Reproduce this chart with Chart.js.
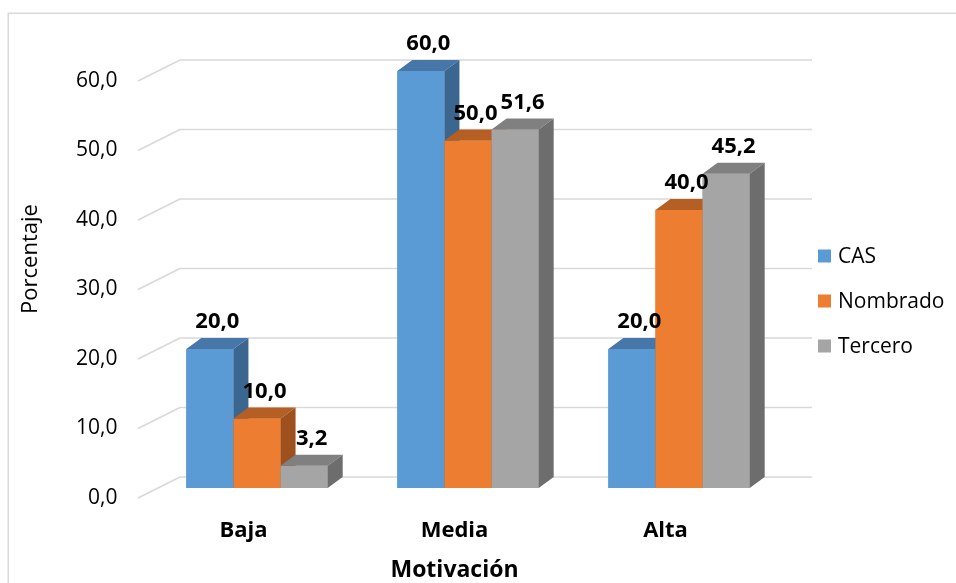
<!DOCTYPE html>
<html>
<head>
<meta charset="utf-8">
<script src="https://cdn.jsdelivr.net/npm/chart.js@4.4.1/dist/chart.umd.min.js"></script>
<style>
  html, body { margin: 0; padding: 0; background: #fff; overflow: hidden; }
  canvas { display: block; }
</style>
</head>
<body>
<canvas id="chart" width="956" height="583"></canvas>
<script>
// ---- data ----
const categories = ['Baja', 'Media', 'Alta'];
const seriesNames = ['CAS', 'Nombrado', 'Tercero'];
const casValues = [20.0, 60.0, 20.0];
const nombradoValues = [10.0, 50.0, 40.0];
const terceroValues = [3.2, 51.6, 45.2];
const yTickValues = [0, 10, 20, 30, 40, 50, 60];
const xAxisTitle = 'Motivación';
const yAxisTitle = 'Porcentaje';

// ---- look ----
const FONT = "'Open Sans', sans-serif";
const faceColors = [
  { front: '#5B9BD5', top: '#4677A8', side: '#3B6690' },
  { front: '#ED7D31', top: '#B65F25', side: '#9E511E' },
  { front: '#A5A5A5', top: '#808080', side: '#6D6D6D' }
];
const BAR_DX = 15, BAR_DY = 11;       // depth of each bar
const FLOOR_DX = 13.5, FLOOR_DY = 10; // bar front plane -> front edge of the floor
const WALL_DX = BAR_DX + FLOOR_DX, WALL_DY = BAR_DY + FLOOR_DY;
const GRID_COLOR = '#D9D9D9';

const fmt = v => v.toFixed(1).replace('.', ',');
const seriesValues = [casValues, nombradoValues, terceroValues];

function poly(ctx, pts, color) {
  ctx.beginPath();
  ctx.moveTo(pts[0][0], pts[0][1]);
  for (let i = 1; i < pts.length; i++) ctx.lineTo(pts[i][0], pts[i][1]);
  ctx.closePath();
  ctx.fillStyle = color;
  ctx.fill();
}

// draws the frame, the receding grid, the 3D bar faces, value labels, legend and titles
const depthPlugin = {
  id: 'depth',
  beforeDraw(chart) {
    const { ctx, width, height } = chart;
    ctx.save();
    ctx.fillStyle = '#fff';
    ctx.fillRect(0, 0, width, height);
    ctx.strokeStyle = GRID_COLOR;
    ctx.lineWidth = 1.5;
    ctx.strokeRect(8.25, 13.25, width + 20, height + 20);
    ctx.restore();
  },
  beforeDatasetsDraw(chart) {
    const { ctx, chartArea: a, scales: { y } } = chart;
    ctx.save();
    ctx.strokeStyle = GRID_COLOR;
    ctx.lineWidth = 1.6;
    ctx.lineJoin = 'round';
    y.ticks.forEach(t => {
      const py = y.getPixelForValue(t.value);
      ctx.beginPath();
      ctx.moveTo(a.left - FLOOR_DX, py + FLOOR_DY);
      ctx.lineTo(a.left + BAR_DX + FLOOR_DX, py - BAR_DY);
      ctx.lineTo(a.right + BAR_DX + FLOOR_DX - 1, py - BAR_DY);
      ctx.stroke();
    });
    ctx.restore();
  },
  afterDatasetsDraw(chart) {
    const ctx = chart.ctx;
    ctx.save();
    // paint clusters left to right so each bar hides the side of the one before it
    chart.data.datasets.forEach((ds, i) => {
      const meta = chart.getDatasetMeta(i);
      const c = faceColors[i];
      meta.data.forEach(bar => {
        const { x, y, base, width } = bar.getProps(['x', 'y', 'base', 'width'], true);
        const l = x - width / 2, r = x + width / 2;
        bar.draw(ctx);
        poly(ctx, [[l, y], [r, y], [r + BAR_DX, y - BAR_DY], [l + BAR_DX, y - BAR_DY]], c.top);
        poly(ctx, [[r, y], [r + BAR_DX, y - BAR_DY], [r + BAR_DX, base - BAR_DY], [r, base]], c.side);
      });
    });
    // value labels
    ctx.font = `bold 22px ${FONT}`;
    ctx.fillStyle = '#000';
    ctx.textAlign = 'center';
    ctx.textBaseline = 'middle';
    chart.data.datasets.forEach((ds, i) => {
      const meta = chart.getDatasetMeta(i);
      meta.data.forEach((bar, j) => {
        const { x, y } = bar.getProps(['x', 'y'], true);
        ctx.fillText(fmt(ds.data[j]), x + BAR_DX / 2, y - BAR_DY - 16);
      });
    });
    ctx.restore();
  },
  afterDraw(chart) {
    const { ctx, chartArea: a } = chart;
    ctx.save();
    ctx.fillStyle = '#000';
    // y axis title
    ctx.font = `22px ${FONT}`;
    ctx.textAlign = 'center';
    ctx.textBaseline = 'middle';
    ctx.save();
    ctx.translate(a.left - 120.5, (a.top + a.bottom) / 2 - 20.5);
    ctx.rotate(-Math.PI / 2);
    ctx.fillText(yAxisTitle, 0, 0);
    ctx.restore();
    // x axis title
    ctx.font = `bold 23px ${FONT}`;
    ctx.fillText(xAxisTitle, (a.left + a.right) / 2 - FLOOR_DX, 570);
    // legend
    ctx.font = `21px ${FONT}`;
    ctx.textAlign = 'left';
    const mid = (a.top + a.bottom) / 2 + 21.5;
    chart.data.datasets.forEach((ds, i) => {
      const cy = mid + (i - 1) * 45;
      ctx.fillStyle = faceColors[i].front;
      ctx.fillRect(a.right + 33.5, cy - 6.5, 13, 13);
      ctx.fillStyle = '#000';
      ctx.fillText(ds.label, a.right + 53.5, cy + 1);
    });
    ctx.restore();
  }
};

Chart.defaults.font.family = FONT;

new Chart(document.getElementById('chart'), {
  type: 'bar',
  data: {
    labels: categories,
    datasets: seriesNames.map((name, i) => ({
      label: name,
      data: seriesValues[i],
      backgroundColor: faceColors[i].front,
      borderWidth: 0,
      categoryPercentage: 0.67,
      barPercentage: 1.0
    }))
  },
  options: {
    responsive: false,
    animation: false,
    layout: { padding: { top: 71, right: 171.5, bottom: 0, left: 0 } },
    plugins: { legend: { display: false }, tooltip: { enabled: false } },
    scales: {
      x: {
        grid: { display: false, drawTicks: false },
        border: { display: false },
        ticks: {
          color: '#000',
          font: { size: 22, weight: 'bold' },
          padding: 30,
          labelOffset: -FLOOR_DX
        },
        afterFit(s) { s.height = 95; }
      },
      y: {
        min: 0,
        max: 60,
        grid: { display: false, drawTicks: false },
        border: { display: false },
        afterBuildTicks(s) { s.ticks = yTickValues.map(v => ({ value: v })); },
        ticks: {
          color: '#000',
          font: { size: 21 },
          padding: 34,
          labelOffset: FLOOR_DY,
          callback: v => fmt(v)
        },
        afterFit(s) { s.width = 151.5; }
      }
    }
  },
  plugins: [depthPlugin]
});
</script>
</body>
</html>
